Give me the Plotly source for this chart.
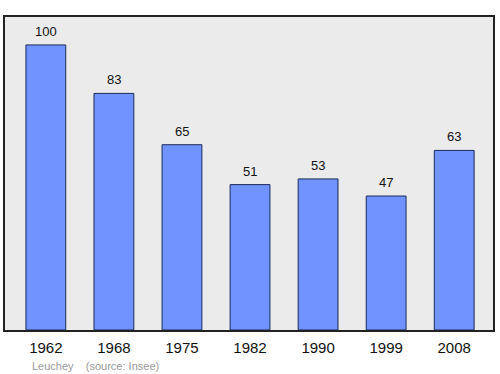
import plotly.graph_objects as go

years = ["1962", "1968", "1975", "1982", "1990", "1999", "2008"]
population = [100, 83, 65, 51, 53, 47, 63]
commune = "Leuchey"
source = "(source: Insee)"

xs = list(range(len(years)))

fig = go.Figure()
fig.add_trace(go.Bar(
    x=xs, y=population, width=0.585,
    marker=dict(color="#7093ff", line=dict(color="#1a2a5a", width=1)),
    hoverinfo="skip",
))
for x, v in zip(xs, population):
    fig.add_annotation(x=x, y=v, text=str(v), showarrow=False, yanchor="bottom",
                       yshift=4, font=dict(family="Liberation Sans", size=13, color="#111"))

fig.add_annotation(xref="paper", yref="paper", x=0.052, y=-0.088, xanchor="left", yanchor="top",
                   text=commune + "\u00a0\u00a0\u00a0\u00a0" + source, showarrow=False,
                   font=dict(family="Liberation Sans", size=11, color="#999"))

fig.update_layout(
    width=500, height=374,
    margin=dict(l=5, r=5, t=17, b=44),
    paper_bgcolor="white", plot_bgcolor="#ebebeb",
    showlegend=False,
    xaxis=dict(range=[-0.6, 6.57], tickvals=xs, ticktext=years, showgrid=False, zeroline=False,
               showline=True, linecolor="#222", linewidth=1.5, mirror=True,
               ticks="outside", ticklen=3, tickcolor="rgba(0,0,0,0)",
               tickfont=dict(family="Liberation Sans", size=15, color="#111")),
    yaxis=dict(range=[0, 109.8], showticklabels=False, showgrid=False, zeroline=False,
               showline=True, linecolor="#222", linewidth=1.5, mirror=True, ticks=""),
)
fig.write_html("out.html")
